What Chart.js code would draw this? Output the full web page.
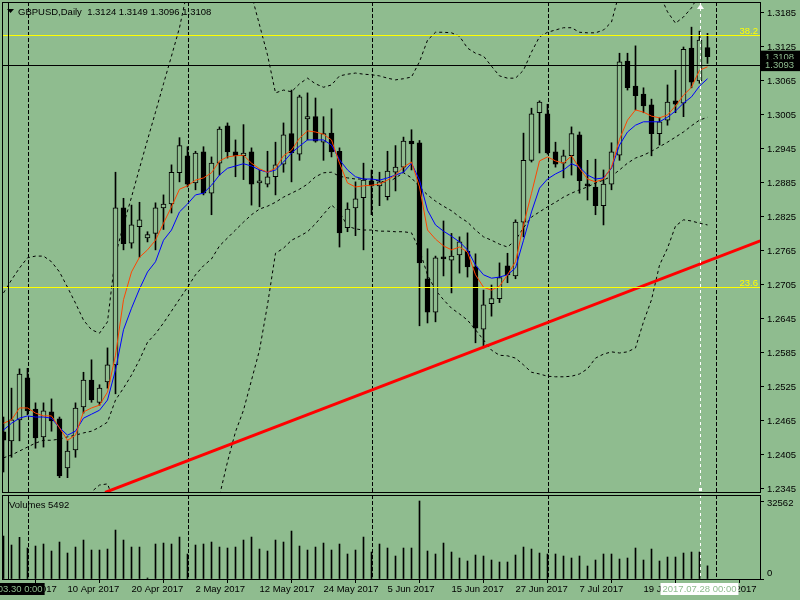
<!DOCTYPE html>
<html>
<head>
<meta charset="utf-8">
<script src="https://cdn.jsdelivr.net/npm/chart.js@4.4.1/dist/chart.umd.min.js"></script>
<style>
  html, body { margin: 0; padding: 0; background: #8FBC8F; }
  #wrap { position: relative; width: 800px; height: 600px; overflow: hidden; }
  #priceChart { position: absolute; left: 0; top: 0; }
  #volChart { position: absolute; left: 0; top: 494px; }
</style>
</head>
<body>
<div id="wrap">
  <canvas id="priceChart" width="800" height="494"></canvas>
  <canvas id="volChart" width="800" height="106"></canvas>
</div>
<script>
// GBPUSD DAILY - CANDLES + MA + BOLLINGER + VOLUMES

const dates = [
  '29 Mar 2017', '30 Mar 2017', '31 Mar 2017',
  '3 Apr 2017', '4 Apr 2017', '5 Apr 2017', '6 Apr 2017', '7 Apr 2017',
  '10 Apr 2017', '11 Apr 2017', '12 Apr 2017', '13 Apr 2017', '14 Apr 2017',
  '17 Apr 2017', '18 Apr 2017', '19 Apr 2017', '20 Apr 2017', '21 Apr 2017',
  '24 Apr 2017', '25 Apr 2017', '26 Apr 2017', '27 Apr 2017', '28 Apr 2017',
  '1 May 2017', '2 May 2017', '3 May 2017', '4 May 2017', '5 May 2017',
  '8 May 2017', '9 May 2017', '10 May 2017', '11 May 2017', '12 May 2017',
  '15 May 2017', '16 May 2017', '17 May 2017', '18 May 2017', '19 May 2017',
  '22 May 2017', '23 May 2017', '24 May 2017', '25 May 2017', '26 May 2017',
  '29 May 2017', '30 May 2017', '31 May 2017',
  '1 Jun 2017', '2 Jun 2017',
  '5 Jun 2017', '6 Jun 2017', '7 Jun 2017', '8 Jun 2017', '9 Jun 2017',
  '12 Jun 2017', '13 Jun 2017', '14 Jun 2017', '15 Jun 2017', '16 Jun 2017',
  '19 Jun 2017', '20 Jun 2017', '21 Jun 2017', '22 Jun 2017', '23 Jun 2017',
  '26 Jun 2017', '27 Jun 2017', '28 Jun 2017', '29 Jun 2017', '30 Jun 2017',
  '3 Jul 2017', '4 Jul 2017', '5 Jul 2017', '6 Jul 2017', '7 Jul 2017',
  '10 Jul 2017', '11 Jul 2017', '12 Jul 2017', '13 Jul 2017', '14 Jul 2017',
  '17 Jul 2017', '18 Jul 2017', '19 Jul 2017', '20 Jul 2017', '21 Jul 2017',
  '24 Jul 2017', '25 Jul 2017', '26 Jul 2017', '27 Jul 2017', '28 Jul 2017',
  '31 Jul 2017'
];

const opens = [
  1.2446, 1.2430, 1.2467, 1.2541, 1.2486, 1.2437, 1.2481, 1.2469, 1.2382, 1.2414,
  1.2490, 1.2537, 1.2498, 1.2534, 1.2564, 1.2841, 1.2779, 1.2808, 1.2788, 1.2796,
  1.2841, 1.2848, 1.2903, 1.2933, 1.2885, 1.2940, 1.2867, 1.2920, 1.2986, 1.2940,
  1.2933, 1.2940, 1.2885, 1.2883, 1.2896, 1.2918, 1.2972, 1.2936, 1.2998, 1.3002,
  1.2957, 1.2973, 1.2941, 1.2806, 1.2841, 1.2859, 1.2889, 1.2880, 1.2861, 1.2904,
  1.2913, 1.2959, 1.2956, 1.2716, 1.2657, 1.2754, 1.2749, 1.2758, 1.2765, 1.2737,
  1.2627, 1.2672, 1.2681, 1.2739, 1.2721, 1.2816, 1.2925, 1.3009, 1.3007, 1.2940,
  1.2920, 1.2933, 1.2970, 1.2883, 1.2878, 1.2845, 1.2883, 1.2934, 1.3100, 1.3056,
  1.3042, 1.3023, 1.2972, 1.2996, 1.3030, 1.3026, 1.3123, 1.3065, 1.3124
];
const highs = [
  1.2472, 1.2523, 1.2557, 1.2558, 1.2497, 1.2497, 1.2504, 1.2472, 1.2430, 1.2497,
  1.2551, 1.2573, 1.2529, 1.2594, 1.2904, 1.2858, 1.2846, 1.2851, 1.2799, 1.2850,
  1.2864, 1.2917, 1.2965, 1.2949, 1.2941, 1.2949, 1.2931, 1.2984, 1.2991, 1.2961,
  1.2988, 1.2947, 1.2908, 1.2941, 1.2957, 1.2991, 1.3049, 1.3040, 1.3044, 1.3035,
  1.3002, 1.3016, 1.2947, 1.2850, 1.2887, 1.2920, 1.2908, 1.2904, 1.2941, 1.2951,
  1.2966, 1.2979, 1.2960, 1.2769, 1.2756, 1.2818, 1.2796, 1.2790, 1.2797, 1.2760,
  1.2696, 1.2705, 1.2744, 1.2761, 1.2820, 1.2973, 1.3017, 1.3030, 1.3024, 1.2957,
  1.2943, 1.2984, 1.2975, 1.2925, 1.2927, 1.2908, 1.2956, 1.3114, 1.3114, 1.3127,
  1.3053, 1.3033, 1.3000, 1.3058, 1.3084, 1.3125, 1.3160, 1.3153, 1.3149
];
const lows = [
  1.2375, 1.2401, 1.2430, 1.2476, 1.2417, 1.2419, 1.2447, 1.2365, 1.2365, 1.2401,
  1.2479, 1.2498, 1.2493, 1.2523, 1.2513, 1.2767, 1.2770, 1.2754, 1.2781, 1.2767,
  1.2803, 1.2832, 1.2887, 1.2878, 1.2873, 1.2864, 1.2829, 1.2899, 1.2929, 1.2896,
  1.2891, 1.2846, 1.2843, 1.2878, 1.2864, 1.2904, 1.2887, 1.2925, 1.2961, 1.2957,
  1.2925, 1.2931, 1.2772, 1.2799, 1.2792, 1.2767, 1.2829, 1.2845, 1.2855, 1.2871,
  1.2904, 1.2908, 1.2633, 1.2638, 1.2640, 1.2721, 1.2691, 1.2726, 1.2719, 1.2603,
  1.2594, 1.2650, 1.2674, 1.2709, 1.2716, 1.2790, 1.2922, 1.2938, 1.2936, 1.2913,
  1.2894, 1.2899, 1.2867, 1.2855, 1.2829, 1.2811, 1.2873, 1.2925, 1.3049, 1.3014,
  1.3009, 1.2933, 1.2952, 1.2987, 1.3009, 1.3002, 1.3053, 1.3061, 1.3096
];
const closes = [
  1.2431, 1.2467, 1.2548, 1.2483, 1.2435, 1.2483, 1.2465, 1.2368, 1.2412, 1.2488,
  1.2537, 1.2502, 1.2523, 1.2564, 1.2841, 1.2778, 1.2811, 1.2820, 1.2794, 1.2841,
  1.2848, 1.2904, 1.2951, 1.2883, 1.2938, 1.2867, 1.2920, 1.2980, 1.2940, 1.2933,
  1.2938, 1.2883, 1.2889, 1.2896, 1.2917, 1.2970, 1.2938, 1.3037, 1.3002, 1.2959,
  1.2972, 1.2940, 1.2797, 1.2839, 1.2857, 1.2890, 1.2880, 1.2887, 1.2906, 1.2913,
  1.2959, 1.2954, 1.2744, 1.2657, 1.2753, 1.2751, 1.2756, 1.2781, 1.2737, 1.2629,
  1.2670, 1.2681, 1.2718, 1.2723, 1.2816, 1.2925, 1.3007, 1.3028, 1.2938, 1.2918,
  1.2933, 1.2972, 1.2889, 1.2880, 1.2845, 1.2883, 1.2940, 1.3099, 1.3053, 1.3039,
  1.3021, 1.2972, 1.2993, 1.3028, 1.3024, 1.3121, 1.3063, 1.3137, 1.3108
];

const volumes = [
  17930, 14180, 17390, 12930, 13760, 14600, 11680, 15430, 10840, 13340,
  16260, 12090, 12090, 12510, 20430, 16260, 13340, 13340, 420, 14600,
  15010, 14600, 17510, 10430, 14180, 14600, 15430, 13340, 12930, 13340,
  16260, 17510, 12510, 11680, 16260, 15430, 20020, 13760, 12090, 13340,
  15010, 12090, 14600, 10430, 12090, 17510, 11260, 14600, 12930, 9590,
  12930, 12930, 32562, 11680, 10430, 15010, 11260, 8760, 7510, 10010,
  9590, 7920, 7090, 7090, 10010, 13340, 12510, 10840, 10430, 10430,
  9590, 8760, 9590, 5420, 7920, 10430, 10430, 8340, 8760, 12930,
  7920, 12510, 7510, 9170, 9170, 10840, 11260, 11260, 5492
];

// moving averages (red = fast, blue = slow)
const maFast = [
  1.2461, 1.2467, 1.2488, 1.2488, 1.2479, 1.2474, 1.2474, 1.2453, 1.2431, 1.2440,
  1.2481, 1.2488, 1.2493, 1.2516, 1.2581, 1.2679, 1.2728, 1.2754, 1.2767, 1.2784,
  1.2814, 1.2843, 1.2874, 1.2880, 1.2890, 1.2894, 1.2903, 1.2924, 1.2931, 1.2933,
  1.2934, 1.2920, 1.2910, 1.2904, 1.2911, 1.2933, 1.2943, 1.2964, 1.2977, 1.2975,
  1.2971, 1.2961, 1.2920, 1.2885, 1.2878, 1.2880, 1.2881, 1.2883, 1.2890, 1.2899,
  1.2913, 1.2922, 1.2878, 1.2802, 1.2786, 1.2774, 1.2767, 1.2772, 1.2763, 1.2723,
  1.2701, 1.2696, 1.2703, 1.2723, 1.2746, 1.2811, 1.2867, 1.2924, 1.2931, 1.2924,
  1.2920, 1.2933, 1.2911, 1.2892, 1.2887, 1.2892, 1.2913, 1.2962, 1.2996, 1.3014,
  1.3010, 1.3003, 1.3000, 1.3005, 1.3021, 1.3040, 1.3054, 1.3084, 1.3090
];
const maSlow = [
  1.2449, 1.2461, 1.2470, 1.2474, 1.2472, 1.2472, 1.2470, 1.2453, 1.2440, 1.2447,
  1.2470, 1.2477, 1.2484, 1.2502, 1.2555, 1.2626, 1.2664, 1.2698, 1.2728, 1.2746,
  1.2784, 1.2802, 1.2834, 1.2848, 1.2864, 1.2867, 1.2881, 1.2899, 1.2911, 1.2915,
  1.2919, 1.2915, 1.2908, 1.2904, 1.2908, 1.2922, 1.2938, 1.2950, 1.2961, 1.2961,
  1.2961, 1.2952, 1.2926, 1.2908, 1.2896, 1.2892, 1.2892, 1.2890, 1.2894, 1.2899,
  1.2904, 1.2920, 1.2890, 1.2837, 1.2811, 1.2800, 1.2791, 1.2781, 1.2767, 1.2740,
  1.2723, 1.2717, 1.2719, 1.2723, 1.2735, 1.2784, 1.2834, 1.2876, 1.2892, 1.2901,
  1.2908, 1.2919, 1.2913, 1.2899, 1.2892, 1.2894, 1.2911, 1.2952, 1.2975, 1.2987,
  1.2993, 1.2993, 1.2993, 1.3001, 1.3012, 1.3026, 1.3037, 1.3056, 1.3069
];

// bollinger bands (null = outside the visible window)
const bbUpper = [
  1.2691, 1.2714, 1.2735, 1.2753, 1.2756, 1.2756, 1.2746, 1.2728, 1.2701, 1.2673,
  1.2643, 1.2626, 1.2620, 1.2640, 1.2758, 1.2811, 1.2860, 1.2911, 1.2961, 1.3010,
  1.3060, 1.3109, 1.3159, 1.3226, null, null, null, null, null, null,
  null, 1.3217, 1.3164, 1.3111, 1.3044, 1.3049, 1.3046, 1.3060, 1.3070, 1.3060,
  1.3054, 1.3058, 1.3074, 1.3077, 1.3079, 1.3077, 1.3076, 1.3074, 1.3070, 1.3067,
  1.3069, 1.3072, 1.3099, 1.3137, 1.3151, 1.3151, 1.3150, 1.3144, 1.3123, 1.3114,
  1.3109, 1.3091, 1.3074, 1.3070, 1.3070, 1.3084, 1.3116, 1.3143, 1.3151, 1.3155,
  1.3159, 1.3159, 1.3151, 1.3150, 1.3150, 1.3155, 1.3169, 1.3222, null, null,
  null, null, 1.3219, 1.3187, 1.3167, 1.3178, 1.3194, 1.3219, null
];
const bbMiddle = [
  1.2400, 1.2405, 1.2412, 1.2419, 1.2426, 1.2431, 1.2431, 1.2433, 1.2437, 1.2440,
  1.2444, 1.2447, 1.2454, 1.2463, 1.2502, 1.2523, 1.2546, 1.2573, 1.2604, 1.2619,
  1.2638, 1.2659, 1.2680, 1.2701, 1.2723, 1.2739, 1.2751, 1.2774, 1.2788, 1.2802,
  1.2816, 1.2829, 1.2839, 1.2844, 1.2851, 1.2860, 1.2867, 1.2874, 1.2883, 1.2896,
  1.2903, 1.2904, 1.2897, 1.2894, 1.2892, 1.2892, 1.2890, 1.2889, 1.2885, 1.2894,
  1.2903, 1.2894, 1.2878, 1.2864, 1.2853, 1.2844, 1.2836, 1.2825, 1.2816, 1.2802,
  1.2790, 1.2784, 1.2777, 1.2772, 1.2784, 1.2806, 1.2825, 1.2834, 1.2843, 1.2851,
  1.2860, 1.2867, 1.2873, 1.2878, 1.2885, 1.2890, 1.2897, 1.2908, 1.2920, 1.2929,
  1.2934, 1.2941, 1.2949, 1.2957, 1.2966, 1.2975, 1.2986, 1.2996, 1.3001
];
const bbLower = [
  null, null, null, null, null, null, null, null, null, null,
  1.2317, 1.2340, 1.2352, 1.2354, 1.2317, null, null, null, null, null,
  null, null, null, null, null, null, 1.2273, 1.2333, 1.2393, 1.2446,
  1.2484, 1.2537, 1.2590, 1.2670, 1.2761, 1.2770, 1.2784, 1.2791, 1.2799, 1.2813,
  1.2830, 1.2846, 1.2834, 1.2809, 1.2804, 1.2802, 1.2802, 1.2800, 1.2800, 1.2799,
  1.2799, 1.2797, 1.2767, 1.2723, 1.2696, 1.2679, 1.2664, 1.2654, 1.2643, 1.2626,
  1.2608, 1.2590, 1.2581, 1.2580, 1.2576, 1.2564, 1.2551, 1.2548, 1.2544, 1.2543,
  1.2543, 1.2544, 1.2548, 1.2557, 1.2576, 1.2583, 1.2587, 1.2585, 1.2587, 1.2594,
  1.2640, 1.2679, 1.2740, 1.2770, 1.2809, 1.2820, 1.2818, 1.2814, 1.2811
];

const priceTicks = [1.3185, 1.3125, 1.3065, 1.3005, 1.2945, 1.2885, 1.2825, 1.2765,
  1.2705, 1.2645, 1.2585, 1.2525, 1.2465, 1.2405, 1.2345];
const timeTicks = [0, 8, 16, 24, 32, 40, 48, 56, 64, 72, 80, 88];
const volumeTicks = [0, 32562];
const monthStarts = [3, 23, 46, 68, 89];

// objects on the chart
const fibLabels = ['38.2', '23.6'];
const fibPrices = [1.3146, 1.2701];
const trendIdx = [12.7, 94.6];
const trendPrice = [1.2339, 1.2783];
const markerIdx = 87;
const markerText = '2017.07.28 00:00';
const crossIdx = 0.6;
const crossPrice = 1.3093;
const crossText = '2017.03.30 0:00';

const BG = '#8FBC8F';
const FONT = '9.5px "Liberation Sans", Arial, sans-serif';
const X_MIN = -0.1875, X_MAX = 94.5625;

Chart.defaults.font.family = '"Liberation Sans", Arial, sans-serif';
Chart.defaults.font.size = 9.5;
Chart.defaults.color = '#000';

const last = opens.length - 1;

function vline(ctx, px, top, bottom, color, dash) {
  ctx.save();
  ctx.strokeStyle = color;
  ctx.lineWidth = 1;
  ctx.setLineDash(dash);
  ctx.beginPath();
  ctx.moveTo(Math.round(px) + 0.5, top);
  ctx.lineTo(Math.round(px) + 0.5, bottom);
  ctx.stroke();
  ctx.restore();
}

function labelBox(ctx, cx, cy, text, bg, fg, alignLeft) {
  ctx.save();
  ctx.font = FONT;
  const w = ctx.measureText(text).width + 4;
  const x0 = alignLeft ? cx : cx - w / 2;
  ctx.fillStyle = bg;
  ctx.fillRect(x0, cy - 6, alignLeft ? 800 - cx : w, 12);
  ctx.fillStyle = fg;
  ctx.textBaseline = 'middle';
  ctx.textAlign = 'left';
  ctx.fillText(text, x0 + (alignLeft ? 4 : 2), cy + 0.5);
  ctx.restore();
}

function noPadding(scale) {
  scale.paddingTop = 0;
  scale.paddingBottom = 0;
  scale.paddingLeft = 0;
  scale.paddingRight = 0;
}

const separators = {
  id: 'separators',
  beforeDatasetsDraw(chart) {
    const { ctx, chartArea: a, scales: { x } } = chart;
    monthStarts.forEach(m => vline(ctx, x.getPixelForValue(m), a.top, a.bottom, '#000', [4, 2]));
  }
};

const priceOverlay = {
  id: 'priceOverlay',
  afterDraw(chart) {
    const { ctx, chartArea: a, scales: { x, y } } = chart;
    ctx.save();
    // fibonacci levels
    ctx.strokeStyle = '#FFFF00';
    ctx.fillStyle = '#FFFF00';
    ctx.lineWidth = 1;
    ctx.font = FONT;
    ctx.textAlign = 'right';
    ctx.textBaseline = 'alphabetic';
    fibPrices.forEach((p, i) => {
      const py = Math.round(y.getPixelForValue(p)) + 0.5;
      ctx.beginPath(); ctx.moveTo(a.left, py); ctx.lineTo(a.right, py); ctx.stroke();
      ctx.fillText(fibLabels[i], a.right - 2, py - 2);
    });
    ctx.restore();

    // vertical line object
    const mx = x.getPixelForValue(markerIdx);
    vline(ctx, mx, a.top, a.bottom, '#FFFFFF', [3, 3]);
    ctx.save();
    ctx.fillStyle = '#FFFFFF';
    ctx.beginPath();
    ctx.moveTo(Math.round(mx) - 3, a.top + 7);
    ctx.lineTo(Math.round(mx) + 4, a.top + 7);
    ctx.lineTo(Math.round(mx) + 0.5, a.top + 2);
    ctx.fill();
    ctx.fillRect(Math.round(mx) - 1, a.bottom - 4, 3, 3);
    ctx.restore();

    // crosshair
    const cx = x.getPixelForValue(crossIdx);
    vline(ctx, cx, a.top, a.bottom, '#000', []);
    const cy = Math.round(y.getPixelForValue(crossPrice)) + 0.5;
    ctx.save();
    ctx.strokeStyle = '#000';
    ctx.beginPath(); ctx.moveTo(a.left, cy); ctx.lineTo(a.right, cy); ctx.stroke();

    // frame
    ctx.strokeRect(a.left + 0.5, a.top + 0.5, a.right - a.left, a.bottom - a.top);

    // title
    ctx.fillStyle = '#000';
    ctx.beginPath();
    ctx.moveTo(7, 9); ctx.lineTo(14, 9); ctx.lineTo(10.5, 13); ctx.fill();
    ctx.font = FONT;
    ctx.textBaseline = 'alphabetic';
    ctx.fillText('GBPUSD,Daily  ' + [opens[last], highs[last], lows[last], closes[last]]
      .map(v => v.toFixed(4)).join(' '), 18, 15);
    ctx.restore();

    // price labels on the scale
    labelBox(ctx, a.right + 1, y.getPixelForValue(closes[last]), closes[last].toFixed(4), '#000', BG, true);
    labelBox(ctx, a.right + 1, y.getPixelForValue(crossPrice), crossPrice.toFixed(4), '#000', BG, true);
  }
};

const volOverlay = {
  id: 'volOverlay',
  afterDraw(chart) {
    const { ctx, chartArea: a, scales: { x, y } } = chart;
    const mx = x.getPixelForValue(markerIdx);
    vline(ctx, mx, a.top, a.bottom, '#FFFFFF', [3, 3]);
    const cx = x.getPixelForValue(crossIdx);
    vline(ctx, cx, a.top, a.bottom, '#000', []);
    ctx.save();
    ctx.strokeStyle = '#000';
    ctx.lineWidth = 1;
    ctx.strokeRect(a.left + 0.5, a.top + 0.5, a.right - a.left, a.bottom - a.top);
    ctx.fillStyle = '#000';
    ctx.font = FONT;
    ctx.fillText('Volumes ' + volumes[last], 9, 14);
    // scale labels: max at the top, zero just above the baseline
    ctx.textBaseline = 'middle';
    ctx.fillText(String(volumeTicks[1]), a.right + 7, y.getPixelForValue(volumeTicks[1]) + 2);
    ctx.fillText(String(volumeTicks[0]), a.right + 7, y.getPixelForValue(volumeTicks[0]) - 6);
    ctx.restore();
    labelBox(ctx, cx, a.bottom + 10, crossText, '#000', BG, false);
    labelBox(ctx, mx, a.bottom + 10, markerText, '#FFFFFF', BG, false);
  }
};

const xAxisBase = {
  type: 'linear',
  min: X_MIN,
  max: X_MAX,
  offset: false,
  bounds: 'ticks'
};

// PRICE PANEL
const idx = closes.map((c, i) => i);
const priceData = {
  datasets: [
    {
      type: 'line', label: 'BB upper', order: 6,
      data: idx.map(i => ({ x: i, y: bbUpper[i] })),
      borderColor: '#000', borderWidth: 1, borderDash: [3, 3], pointRadius: 0, spanGaps: false
    },
    {
      type: 'line', label: 'BB middle', order: 6,
      data: idx.map(i => ({ x: i, y: bbMiddle[i] })),
      borderColor: '#000', borderWidth: 1, borderDash: [3, 3], pointRadius: 0
    },
    {
      type: 'line', label: 'BB lower', order: 6,
      data: idx.map(i => ({ x: i, y: bbLower[i] })),
      borderColor: '#000', borderWidth: 1, borderDash: [3, 3], pointRadius: 0, spanGaps: false
    },
    {
      type: 'bar', label: 'wick', order: 5, grouped: false,
      data: idx.map(i => ({ x: i, y: [lows[i], highs[i]] })),
      backgroundColor: '#000', borderWidth: 0, barThickness: 1
    },
    {
      type: 'bar', label: 'body', order: 4, grouped: false,
      data: idx.map(i => ({ x: i, y: [opens[i], closes[i]] })),
      backgroundColor: idx.map(i => closes[i] >= opens[i] ? BG : '#000'),
      borderColor: '#000', borderWidth: 1, borderSkipped: false,
      barThickness: 5, minBarLength: 2
    },
    {
      type: 'line', label: 'MA slow', order: 3,
      data: idx.map(i => ({ x: i, y: maSlow[i] })),
      borderColor: '#0000FF', borderWidth: 1, pointRadius: 0
    },
    {
      type: 'line', label: 'MA fast', order: 2,
      data: idx.map(i => ({ x: i, y: maFast[i] })),
      borderColor: '#FF4500', borderWidth: 1, pointRadius: 0
    },
    {
      type: 'line', label: 'trend', order: 1,
      data: trendIdx.map((v, i) => ({ x: v, y: trendPrice[i] })),
      borderColor: '#FF0000', borderWidth: 3, pointRadius: 0
    }
  ]
};

const priceChart = new Chart(document.getElementById('priceChart'), {
  type: 'bar',
  data: priceData,
  plugins: [separators, priceOverlay],
  options: {
    responsive: false,
    animation: false,
    layout: { padding: { left: 2, top: 2, bottom: 2, right: 0 } },
    plugins: { legend: { display: false }, tooltip: { enabled: false } },
    scales: {
      x: Object.assign({}, xAxisBase, { display: false }),
      y: {
        position: 'right',
        min: 1.23397,
        max: 1.32044,
        afterFit(scale) { scale.width = 40; noPadding(scale); },
        afterBuildTicks(scale) { scale.ticks = priceTicks.map(v => ({ value: v })); },
        ticks: { callback: v => v.toFixed(4), padding: 3, color: '#000', autoSkip: false },
        grid: { drawOnChartArea: false, drawTicks: true, tickLength: 4, color: '#000' },
        border: { display: false }
      }
    }
  }
});

// VOLUME PANEL
const volChart = new Chart(document.getElementById('volChart'), {
  type: 'bar',
  data: {
    datasets: [{
      label: 'Volumes',
      data: idx.map(i => ({ x: i, y: volumes[i] })),
      backgroundColor: '#000',
      borderWidth: 0,
      barThickness: 1,
      grouped: false
    }]
  },
  plugins: [separators, volOverlay],
  options: {
    responsive: false,
    animation: false,
    layout: { padding: { left: 2, top: 1, bottom: 0, right: 0 } },
    plugins: { legend: { display: false }, tooltip: { enabled: false } },
    scales: {
      x: Object.assign({}, xAxisBase, {
        position: 'bottom',
        afterFit(scale) { scale.height = 21; noPadding(scale); },
        afterBuildTicks(scale) { scale.ticks = timeTicks.map(v => ({ value: v })); },
        ticks: { callback: v => dates[v], align: 'start', maxRotation: 0, autoSkip: false, padding: 1, color: '#000' },
        grid: { drawOnChartArea: false, drawTicks: true, tickLength: 4, color: '#000' },
        border: { display: false }
      }),
      y: {
        position: 'right',
        min: 0,
        max: 35067,
        afterFit(scale) { scale.width = 40; noPadding(scale); },
        afterBuildTicks(scale) { scale.ticks = volumeTicks.map(v => ({ value: v })); },
        ticks: { display: false },
        grid: { drawOnChartArea: false, drawTicks: true, tickLength: 4, color: '#000' },
        border: { display: false }
      }
    }
  }
});
</script>
</body>
</html>
